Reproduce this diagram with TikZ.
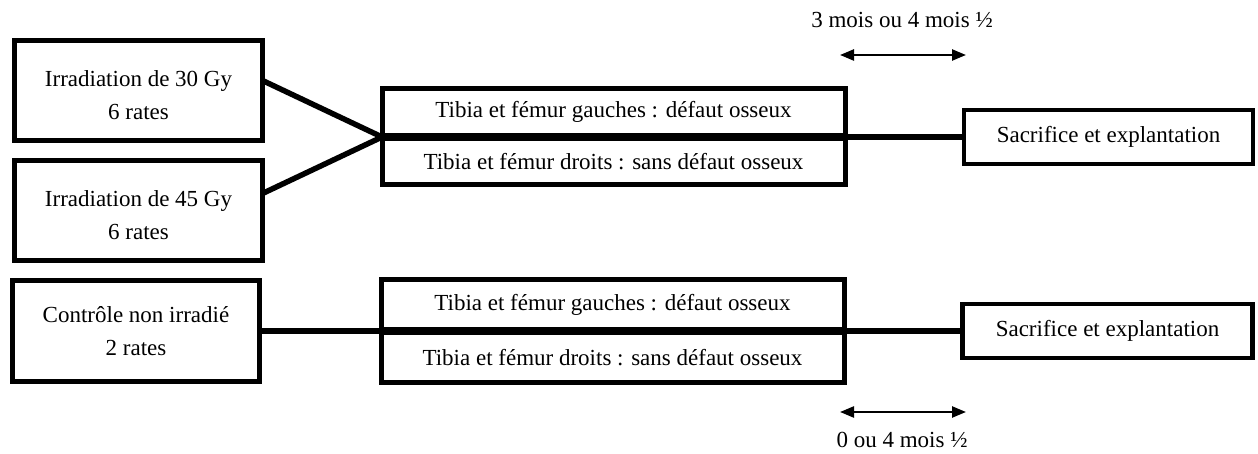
\documentclass[tikz,border=0pt]{standalone}
\usepackage{fontspec}
\setmainfont{Liberation Serif}
\usetikzlibrary{arrows.meta,calc}

% strut that lowers the two text lines a little inside a box
\newcommand{\lowstrut}{\rule{0pt}{26pt}}

\tikzset{
  box/.style={draw, line width=5pt, rectangle, inner sep=0pt, outer sep=0pt,
              align=center, font=\fontsize{23}{33}\selectfont},
  group/.style={box, minimum width=248pt, minimum height=100pt},
  half/.style={box, minimum width=463pt},
  endbox/.style={box, line width=4.5pt, minimum width=289pt, minimum height=54pt},
  link/.style={line width=5.5pt},
  span/.style={line width=2.4pt, {Triangle[length=14pt,width=11pt]}-{Triangle[length=14pt,width=11pt]}},
  lbl/.style={font=\fontsize{23}{28}\selectfont, inner sep=0pt}
}

\begin{document}
\begin{tikzpicture}[x=1pt, y=-1pt]
  \useasboundingbox (0,0) rectangle (1258,454);

  % groups of rats
  \node[group] (g30) at (138.5,90.5)  {\lowstrut Irradiation de 30 Gy\\6 rates};
  \node[group] (g45) at (138.5,210.5) {\lowstrut Irradiation de 45 Gy\\6 rates};
  \node[group, minimum width=247pt] (ctl) at (136,331) {Contrôle non irradié\\2 rates};

  % operated bones, irradiated groups
  \node[half, minimum height=47pt] (tg1) at (613.5,112)   {Tibia et fémur gauches : défaut osseux};
  \node[half, minimum height=46pt] (td1) at (613.5,161.5) {Tibia et fémur droits : sans défaut osseux};

  % operated bones, control group
  \node[half, minimum height=50pt] (tg2) at (612.5,304.5) {Tibia et fémur gauches : défaut osseux};
  \node[half, minimum height=50pt] (td2) at (612.5,357.5) {Tibia et fémur droits : sans défaut osseux};

  % end of protocol
  \node[endbox] (sac1) at (1108.5,137) {Sacrifice et explantation};
  \node[endbox, minimum width=290pt] (sac2) at (1107.5,331) {Sacrifice et explantation};

  % junction points on the left and right of each pair of boxes
  \coordinate (jl1) at ($(tg1.south west)!0.5!(td1.north west)$);
  \coordinate (jr1) at ($(tg1.south east)!0.5!(td1.north east)$);
  \coordinate (jl2) at ($(tg2.south west)!0.5!(td2.north west)$);
  \coordinate (jr2) at ($(tg2.south east)!0.5!(td2.north east)$);

  % connectors
  \draw[link] ($(g30.north east)!0.4!(g30.south east)$) -- (jl1);
  \draw[link] ($(g45.north east)!0.33!(g45.south east)$) -- (jl1);
  \draw[link] (jr1) -- (sac1.west);
  \draw[link] (ctl.east) -- (jl2);
  \draw[link] (jr2) -- (sac2.west);

  % delays before sacrifice
  \coordinate (a1) at (840,55);
  \coordinate (b1) at (966,55);
  \draw[span] (a1) -- (b1);
  \node[lbl] (d1) at (902,20) {3 mois ou 4 mois ½};

  \coordinate (a2) at (840,412);
  \coordinate (b2) at (966,412);
  \draw[span] (a2) -- (b2);
  \node[lbl] (d2) at (902,440) {0 ou 4 mois ½};
\end{tikzpicture}
\end{document}
